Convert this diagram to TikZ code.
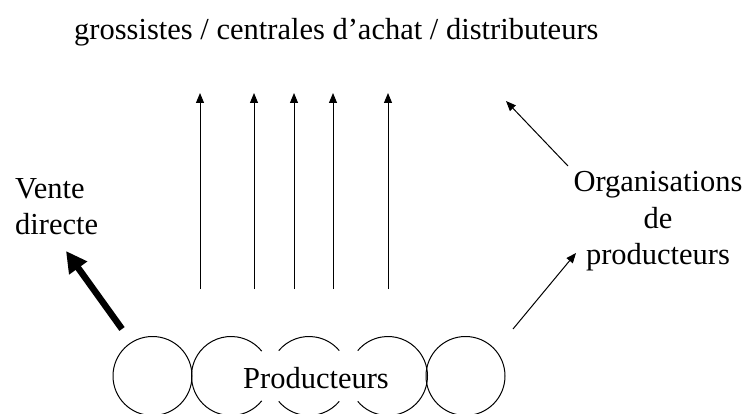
\documentclass[tikz,border=0pt]{standalone}
\usepackage{fontspec}
\setmainfont{Liberation Serif}
\usetikzlibrary{arrows.meta}
\begin{document}
\begin{tikzpicture}[x=1pt,y=-1pt,
  lbl/.style={font=\fontsize{30.5}{36.6}\selectfont, inner sep=0pt},
  flow/.style={-{Triangle[length=10pt,width=8pt]}, line width=1pt},
  bigflow/.style={-{Triangle[length=21pt,width=21pt]}, line width=6.5pt},
  ring/.style={line width=1pt}]
\useasboundingbox (0,0) rectangle (747,414);

% channel labels
\node[lbl, anchor=base west] (buyers) at (74,40) {grossistes / centrales d’achat / distributeurs};
\node[lbl, anchor=west, align=left] (direct) at (15,206.5) {Vente\\directe};
\node[lbl, align=center] (orgs) at (658,221.5) {Organisations\\de\\producteurs};
\node[lbl, anchor=base] (prod) at (316,388) {Producteurs};

% the row of producers
\coordinate (c1) at (152.5,376);
\coordinate (c2) at (231,376);
\coordinate (c3) at (309,376);
\coordinate (c4) at (388,376);
\coordinate (c5) at (465.5,376);
\def\rr{39.5}
\draw[ring] (c1) circle[radius=\rr];
\draw[ring] ([shift={(39:\rr)}]c2) arc[start angle=39, end angle=321, radius=\rr];
\draw[ring] ([shift={(40:\rr)}]c3) arc[start angle=40, end angle=140, radius=\rr];
\draw[ring] ([shift={(220:\rr)}]c3) arc[start angle=220, end angle=320, radius=\rr];
\draw[ring] ([shift={(140:\rr)}]c4) arc[start angle=140, end angle=-140, radius=\rr];
\draw[ring] (c5) circle[radius=\rr];

% flows towards the buyers
\foreach \i/\x in {1/200,2/254,3/294,4/333,5/388}{
  \coordinate (s\i) at (\x,289);
  \coordinate (t\i) at (\x,93);
  \draw[flow] (s\i) -- (t\i);
}
\coordinate (og) at (568,166);
\coordinate (ot) at (506,101);
\draw[flow] (og) -- (ot);
\coordinate (pg) at (513,329);
\coordinate (pt) at (576,253);
\draw[flow] (pg) -- (pt);
\coordinate (dg) at (122,329);
\coordinate (dt) at (66,251);
\draw[bigflow] (dg) -- (dt);
\end{tikzpicture}
\end{document}
